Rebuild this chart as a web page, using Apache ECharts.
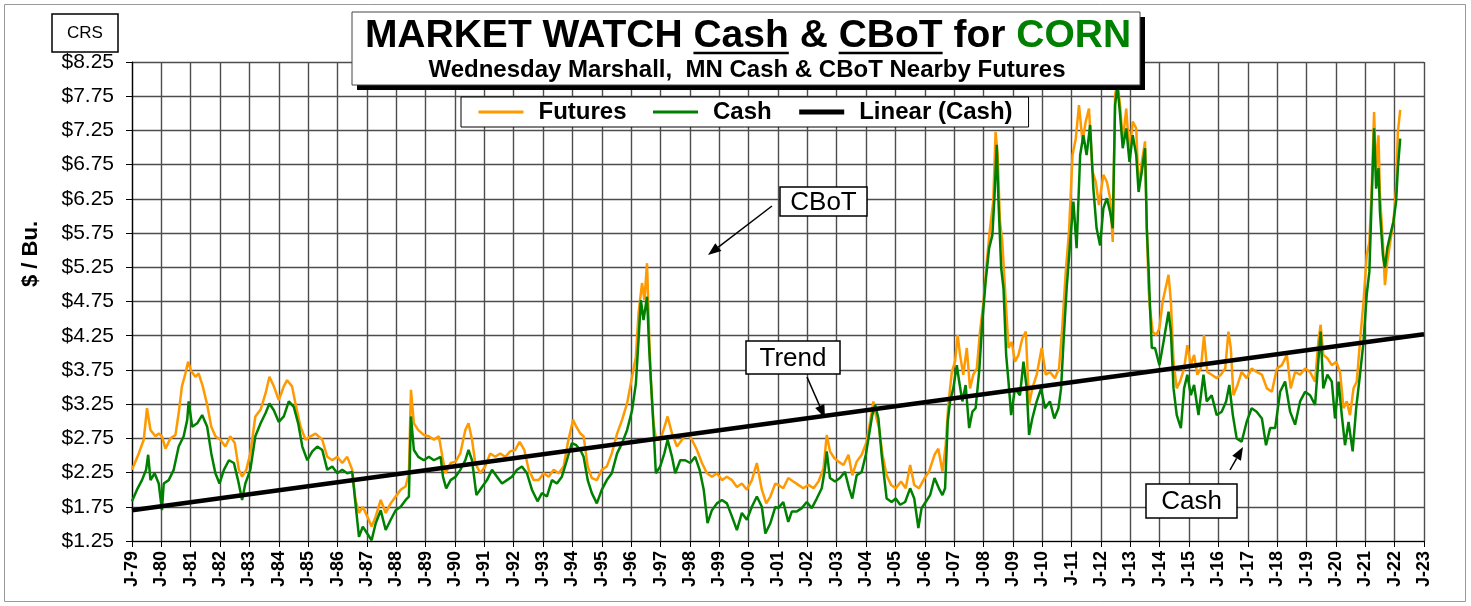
<!DOCTYPE html>
<html>
<head>
<meta charset="utf-8">
<title>Market Watch Corn</title>
<script src="https://cdn.jsdelivr.net/npm/echarts@6.0.0/dist/echarts.min.js"></script>
<style>
  html, body { margin: 0; padding: 0; background: #fff; }
  #chart { width: 1471px; height: 606px; }
</style>
</head>
<body>
<div id="chart"></div>
<script>
// weekly prices, [decimal year, $/bu]
const futures = [
  [1979.00,2.29],[1979.23,2.53],[1979.40,2.73],[1979.51,3.19],[1979.63,2.87],[1979.80,2.78],[1979.91,2.82],
  [1980.02,2.78],[1980.14,2.60],[1980.31,2.75],[1980.48,2.80],[1980.59,3.12],[1980.70,3.51],[1980.82,3.70],[1980.91,3.87],
  [1981.02,3.73],[1981.16,3.65],[1981.27,3.70],[1981.41,3.51],[1981.56,3.24],[1981.70,2.92],[1981.84,2.78],
  [1982.01,2.73],[1982.18,2.63],[1982.35,2.78],[1982.50,2.68],[1982.64,2.29],[1982.75,2.19],[1982.89,2.29],
  [1983.03,2.53],[1983.20,3.07],[1983.38,3.17],[1983.55,3.41],[1983.68,3.65],[1983.83,3.51],
  [1984.00,3.31],[1984.17,3.51],[1984.28,3.60],[1984.45,3.51],[1984.59,3.21],[1984.74,2.92],[1984.91,2.73],
  [1985.08,2.78],[1985.25,2.82],[1985.48,2.73],[1985.65,2.48],[1985.82,2.43],[1985.99,2.48],
  [1986.16,2.39],[1986.33,2.48],[1986.50,2.29],[1986.61,1.85],[1986.73,1.66],[1986.86,1.75],
  [1987.01,1.61],[1987.16,1.46],[1987.30,1.61],[1987.47,1.85],[1987.64,1.66],[1987.81,1.80],[1987.98,1.90],
  [1988.15,2.00],[1988.32,2.05],[1988.43,2.24],[1988.50,3.46],[1988.60,2.97],[1988.75,2.87],[1988.94,2.80],
  [1989.11,2.78],[1989.28,2.73],[1989.45,2.78],[1989.57,2.48],[1989.68,2.24],[1989.85,2.39],
  [1990.02,2.41],[1990.18,2.53],[1990.35,2.87],[1990.46,2.97],[1990.58,2.73],[1990.69,2.39],[1990.86,2.24],
  [1991.03,2.34],[1991.20,2.53],[1991.37,2.48],[1991.54,2.53],[1991.71,2.48],[1991.88,2.56],
  [1992.05,2.58],[1992.20,2.70],[1992.36,2.58],[1992.51,2.29],[1992.68,2.14],[1992.85,2.14],
  [1993.02,2.24],[1993.19,2.19],[1993.36,2.29],[1993.53,2.24],[1993.70,2.34],[1993.84,2.68],
  [1994.02,3.02],[1994.13,2.92],[1994.27,2.82],[1994.38,2.78],[1994.52,2.34],[1994.66,2.17],[1994.83,2.14],
  [1995.00,2.29],[1995.17,2.34],[1995.34,2.53],[1995.52,2.82],[1995.69,3.02],[1995.86,3.26],
  [1996.03,3.65],[1996.16,3.94],[1996.25,4.58],[1996.37,5.02],[1996.45,4.77],[1996.54,5.31],[1996.61,4.29],[1996.67,3.60],[1996.76,2.97],[1996.85,2.73],
  [1996.99,2.73],[1997.10,2.87],[1997.24,3.07],[1997.39,2.82],[1997.56,2.63],[1997.73,2.73],[1997.90,2.82],
  [1998.07,2.73],[1998.24,2.58],[1998.41,2.39],[1998.58,2.24],[1998.75,2.19],[1998.92,2.24],
  [1999.09,2.14],[1999.26,2.19],[1999.43,2.14],[1999.60,2.04],[1999.77,2.09],[1999.94,2.00],
  [2000.11,2.14],[2000.28,2.39],[2000.45,2.00],[2000.60,1.80],[2000.74,1.90],[2000.91,2.09],
  [2001.01,2.07],[2001.18,2.02],[2001.35,2.17],[2001.52,2.12],[2001.69,2.07],[2001.86,2.02],
  [2002.04,2.07],[2002.21,2.02],[2002.38,2.12],[2002.55,2.31],[2002.66,2.80],[2002.77,2.56],[2002.92,2.46],
  [2003.06,2.41],[2003.23,2.36],[2003.40,2.51],[2003.53,2.21],[2003.68,2.41],[2003.85,2.51],
  [2004.02,2.70],[2004.14,3.00],[2004.25,3.29],[2004.33,3.09],[2004.44,2.90],[2004.56,2.51],[2004.70,2.21],[2004.85,2.07],
  [2005.01,2.02],[2005.19,2.12],[2005.35,2.02],[2005.50,2.36],[2005.64,2.07],[2005.80,2.02],[2005.99,2.17],
  [2006.14,2.26],[2006.33,2.51],[2006.46,2.60],[2006.60,2.26],[2006.71,2.65],[2006.80,3.24],[2006.92,3.72],
  [2007.03,3.87],[2007.12,4.26],[2007.20,3.97],[2007.31,3.68],[2007.43,4.07],[2007.54,3.48],[2007.65,3.68],[2007.77,3.77],[2007.88,4.31],
  [2008.00,4.75],[2008.11,5.33],[2008.22,5.82],[2008.33,6.21],[2008.41,7.23],[2008.48,6.89],[2008.56,5.92],[2008.64,5.62],[2008.73,4.94],[2008.85,4.07],[2008.96,4.16],
  [2009.07,3.87],[2009.19,3.97],[2009.32,4.21],[2009.44,4.31],[2009.55,3.24],[2009.66,3.48],[2009.81,3.68],[2009.98,4.07],
  [2010.12,3.68],[2010.26,3.72],[2010.43,3.63],[2010.57,3.77],[2010.68,4.36],[2010.80,5.19],[2010.91,5.77],
  [2011.03,6.89],[2011.14,7.13],[2011.25,7.62],[2011.37,7.09],[2011.48,7.38],[2011.59,7.57],[2011.71,6.65],[2011.82,6.50],[2011.93,6.16],
  [2012.08,6.60],[2012.20,6.50],[2012.31,6.26],[2012.40,5.62],[2012.48,7.77],[2012.56,7.95],[2012.65,7.62],[2012.74,7.09],[2012.86,7.57],[2012.97,6.89],
  [2013.08,7.38],[2013.20,7.28],[2013.28,6.40],[2013.39,6.79],[2013.50,7.09],[2013.56,5.82],[2013.62,4.94],[2013.67,4.65],[2013.76,4.31],[2013.88,4.26],
  [2013.99,4.36],[2014.10,4.75],[2014.30,5.14],[2014.38,4.75],[2014.47,3.87],[2014.58,3.48],[2014.69,3.58],[2014.83,3.77],[2014.94,4.11],
  [2015.06,3.82],[2015.17,3.97],[2015.28,3.68],[2015.40,3.77],[2015.51,4.26],[2015.62,3.72],[2015.77,3.68],[2015.94,3.63],
  [2016.08,3.68],[2016.23,3.77],[2016.34,4.31],[2016.42,4.07],[2016.51,3.38],[2016.65,3.53],[2016.79,3.72],[2016.96,3.63],
  [2017.13,3.77],[2017.30,3.72],[2017.48,3.68],[2017.65,3.48],[2017.82,3.43],[2017.99,3.77],
  [2018.16,3.82],[2018.33,3.97],[2018.46,3.48],[2018.61,3.72],[2018.78,3.68],[2018.95,3.77],
  [2019.12,3.72],[2019.29,3.58],[2019.40,4.16],[2019.48,4.41],[2019.57,3.97],[2019.71,3.92],[2019.86,3.82],
  [2020.01,3.87],[2020.14,3.72],[2020.26,3.19],[2020.37,3.29],[2020.48,3.09],[2020.60,3.48],[2020.71,3.58],[2020.82,4.16],[2020.94,4.75],
  [2021.05,5.43],[2021.14,5.62],[2021.22,6.40],[2021.30,7.52],[2021.37,6.65],[2021.45,7.18],[2021.50,6.31],[2021.60,5.62],[2021.67,4.99],[2021.75,5.33],[2021.85,5.62],[2021.96,5.92],
  [2022.05,6.40],[2022.11,7.23],[2022.19,7.55]
];

const cash = [
  [1979.00,1.83],[1979.17,2.00],[1979.34,2.14],[1979.48,2.29],[1979.55,2.51],[1979.63,2.14],[1979.77,2.24],[1979.91,2.09],
  [1980.02,1.70],[1980.08,2.09],[1980.25,2.14],[1980.42,2.29],[1980.59,2.63],[1980.76,2.78],[1980.88,3.02],[1980.93,3.29],
  [1981.05,2.92],[1981.22,2.97],[1981.39,3.09],[1981.56,2.92],[1981.70,2.53],[1981.84,2.24],[1981.98,2.09],
  [1982.13,2.29],[1982.30,2.43],[1982.47,2.39],[1982.61,2.14],[1982.75,1.85],[1982.86,2.09],
  [1983.03,2.29],[1983.20,2.78],[1983.38,2.97],[1983.55,3.12],[1983.68,3.26],[1983.83,3.16],
  [1984.00,2.99],[1984.17,3.07],[1984.34,3.29],[1984.51,3.21],[1984.66,2.97],[1984.80,2.63],[1984.97,2.43],
  [1985.14,2.56],[1985.31,2.63],[1985.48,2.58],[1985.65,2.29],[1985.82,2.34],[1985.99,2.24],
  [1986.16,2.29],[1986.33,2.24],[1986.50,2.26],[1986.61,1.80],[1986.73,1.31],[1986.86,1.46],
  [1987.01,1.36],[1987.16,1.26],[1987.30,1.51],[1987.47,1.70],[1987.64,1.41],[1987.81,1.56],[1987.98,1.70],
  [1988.15,1.75],[1988.32,1.85],[1988.43,1.90],[1988.50,3.07],[1988.60,2.58],[1988.75,2.48],[1988.94,2.43],
  [1989.11,2.48],[1989.28,2.43],[1989.51,2.48],[1989.59,2.19],[1989.70,2.02],[1989.85,2.14],
  [1990.02,2.19],[1990.18,2.29],[1990.35,2.43],[1990.46,2.58],[1990.58,2.43],[1990.73,1.92],[1990.92,2.04],
  [1991.09,2.14],[1991.26,2.29],[1991.43,2.19],[1991.60,2.09],[1991.77,2.14],[1991.94,2.19],
  [1992.11,2.29],[1992.28,2.34],[1992.45,2.24],[1992.62,2.00],[1992.81,1.83],[1992.96,1.95],
  [1993.13,1.90],[1993.30,2.14],[1993.47,2.09],[1993.64,2.19],[1993.81,2.43],[1993.98,2.68],
  [1994.13,2.65],[1994.27,2.58],[1994.38,2.48],[1994.52,2.14],[1994.66,1.95],[1994.83,1.80],
  [1995.00,2.00],[1995.17,2.14],[1995.34,2.24],[1995.52,2.53],[1995.69,2.68],[1995.86,2.87],
  [1996.03,3.16],[1996.16,3.55],[1996.25,4.19],[1996.33,4.77],[1996.42,4.48],[1996.54,4.82],[1996.61,4.09],[1996.67,3.60],[1996.76,2.92],[1996.84,2.24],
  [1996.99,2.34],[1997.13,2.53],[1997.24,2.73],[1997.39,2.48],[1997.50,2.24],[1997.67,2.43],[1997.84,2.43],
  [1998.01,2.39],[1998.18,2.48],[1998.33,2.29],[1998.47,2.00],[1998.60,1.51],[1998.75,1.70],[1998.92,1.80],
  [1999.09,1.85],[1999.26,1.80],[1999.43,1.61],[1999.60,1.41],[1999.77,1.66],[1999.94,1.56],
  [2000.11,1.75],[2000.28,1.90],[2000.45,1.75],[2000.57,1.36],[2000.74,1.51],[2000.91,1.75],
  [2001.01,1.73],[2001.18,1.82],[2001.35,1.53],[2001.47,1.68],[2001.64,1.68],[2001.81,1.73],[2001.98,1.82],
  [2002.15,1.73],[2002.32,1.87],[2002.49,2.02],[2002.60,2.31],[2002.66,2.56],[2002.77,2.17],[2002.94,2.12],
  [2003.11,2.17],[2003.28,2.26],[2003.42,2.02],[2003.53,1.87],[2003.68,2.21],[2003.85,2.26],[2003.99,2.51],
  [2004.10,2.80],[2004.21,3.09],[2004.31,3.24],[2004.42,3.04],[2004.53,2.51],[2004.70,1.87],[2004.87,1.82],
  [2005.01,1.87],[2005.16,1.78],[2005.33,1.82],[2005.50,2.02],[2005.64,1.87],[2005.78,1.44],[2005.89,1.73],
  [2006.03,1.82],[2006.18,1.92],[2006.33,2.17],[2006.48,2.02],[2006.60,1.92],[2006.69,2.02],[2006.78,2.99],[2006.86,3.29],[2006.97,3.48],
  [2007.09,3.82],[2007.17,3.58],[2007.28,3.29],[2007.39,3.53],[2007.51,2.90],[2007.62,3.14],[2007.73,3.19],[2007.85,3.72],[2007.96,4.46],
  [2008.07,5.04],[2008.19,5.53],[2008.30,5.72],[2008.37,6.26],[2008.45,7.04],[2008.50,6.31],[2008.60,5.24],[2008.68,4.94],[2008.77,3.97],[2008.85,3.58],[2008.94,3.09],
  [2009.07,3.48],[2009.24,3.38],[2009.36,3.87],[2009.47,3.48],[2009.55,2.80],[2009.66,3.04],[2009.81,3.29],[2009.96,3.48],
  [2010.09,3.19],[2010.26,3.29],[2010.41,3.04],[2010.55,3.19],[2010.64,3.48],[2010.73,4.21],[2010.83,4.94],[2010.95,5.62],
  [2011.06,6.21],[2011.17,5.53],[2011.29,6.89],[2011.40,7.18],[2011.51,6.89],[2011.63,7.33],[2011.74,6.40],[2011.85,5.82],[2011.97,5.57],
  [2012.08,6.11],[2012.20,6.26],[2012.31,6.06],[2012.40,5.82],[2012.48,7.62],[2012.56,7.90],[2012.65,7.48],[2012.74,6.99],[2012.86,7.28],[2012.97,6.79],
  [2013.08,7.18],[2013.20,6.89],[2013.28,6.35],[2013.39,6.65],[2013.50,6.99],[2013.56,5.82],[2013.62,5.24],[2013.67,4.65],[2013.73,4.07],[2013.84,4.07],
  [2013.99,3.82],[2014.13,4.16],[2014.30,4.60],[2014.38,4.31],[2014.47,3.48],[2014.58,3.09],[2014.72,2.90],[2014.83,3.48],[2014.94,3.68],
  [2015.06,3.38],[2015.17,3.53],[2015.32,3.09],[2015.49,3.68],[2015.60,3.29],[2015.77,3.38],[2015.94,3.09],
  [2016.11,3.14],[2016.26,3.29],[2016.37,3.53],[2016.49,3.09],[2016.62,2.75],[2016.79,2.70],[2016.96,2.99],
  [2017.13,3.19],[2017.30,3.14],[2017.48,3.04],[2017.62,2.65],[2017.76,2.90],[2017.93,2.90],
  [2018.10,3.43],[2018.27,3.58],[2018.44,3.14],[2018.61,2.95],[2018.78,3.29],[2018.95,3.43],
  [2019.12,3.38],[2019.29,3.24],[2019.40,3.87],[2019.48,4.31],[2019.57,3.48],[2019.71,3.68],[2019.86,3.58],[2019.97,3.04],
  [2020.09,3.58],[2020.20,3.09],[2020.31,2.65],[2020.43,2.99],[2020.57,2.56],[2020.69,3.19],[2020.82,3.68],[2020.94,4.16],
  [2021.05,4.85],[2021.14,5.19],[2021.22,6.26],[2021.30,7.28],[2021.37,6.40],[2021.45,6.70],[2021.50,6.06],[2021.60,5.43],[2021.67,5.24],[2021.75,5.53],[2021.85,5.72],[2021.96,5.92],
  [2022.05,6.21],[2022.11,6.70],[2022.19,7.13]
];

// ends of the linear trend of cash, as drawn
const trend = [[1979, 1.70], [2023, 4.27]];

const seriesNames = ['Futures', 'Cash', 'Linear (Cash)'];
const yearRange = [1979, 2023];
const priceRange = [1.25, 8.25];

const FONT = '"Liberation Sans", Arial, Helvetica, sans-serif';
const ORANGE = '#FF9900';
const GREEN = '#008000';

const chart = echarts.init(document.getElementById('chart'), null, { renderer: 'canvas' });

// text measuring for the title underlines
const ctx = document.createElement('canvas').getContext('2d');
function textWidth(str, font) {
  ctx.font = font;
  return ctx.measureText(str).width;
}

function arrow(x1, y1, x2, y2) {
  const a = Math.atan2(y2 - y1, x2 - x1);
  const L = 13, W = 5;
  const bx = x2 - L * Math.cos(a), by = y2 - L * Math.sin(a);
  const px = -Math.sin(a) * W, py = Math.cos(a) * W;
  return [
    { type: 'line', z: 100, shape: { x1: x1, y1: y1, x2: bx, y2: by }, style: { stroke: '#000', lineWidth: 1.5 } },
    { type: 'polygon', z: 100, shape: { points: [[x2, y2], [bx + px, by + py], [bx - px, by - py]] }, style: { fill: '#000' } }
  ];
}

function labelBox(x, y, w, h, text) {
  return [
    { type: 'rect', z: 100, shape: { x: x, y: y, width: w, height: h }, style: { fill: '#fff', stroke: '#000', lineWidth: 1.5 } },
    { type: 'text', z: 101, x: x + w / 2, y: y + h / 2 + 1,
      style: { text: text, font: '26px ' + FONT, fill: '#000', align: 'center', verticalAlign: 'middle' } }
  ];
}

// title pieces
const titleFont = 'bold 39px ' + FONT;
const titleBlack = 'MARKET WATCH Cash & CBoT for ';
const titleGreen = 'CORN';
const titleW = textWidth(titleBlack + titleGreen, titleFont);
const titleX = 748 - titleW / 2;
const titleY = 36;
const cashX0 = titleX + textWidth('MARKET WATCH ', titleFont);
const cashX1 = cashX0 + textWidth('Cash', titleFont);
const cbotX0 = titleX + textWidth('MARKET WATCH Cash & ', titleFont);
const cbotX1 = cbotX0 + textWidth('CBoT', titleFont);
const ulY = 53;

const graphics = [
  { type: 'rect', z: 0, silent: true, shape: { x: 4.5, y: 4.5, width: 1461, height: 597 }, style: { fill: 'none', stroke: '#999', lineWidth: 1 } },
  // CRS tag
  { type: 'rect', z: 100, shape: { x: 52, y: 14, width: 66, height: 38 }, style: { fill: '#fff', stroke: '#000', lineWidth: 1.5 } },
  { type: 'text', z: 101, x: 85, y: 33, style: { text: 'CRS', font: '17px ' + FONT, fill: '#000', align: 'center', verticalAlign: 'middle' } },
  // y axis title
  { type: 'text', z: 101, x: 31, y: 254, rotation: Math.PI / 2,
    style: { text: '$ / Bu.', font: 'bold 22px ' + FONT, fill: '#000', align: 'center', verticalAlign: 'middle' } },
  // title box with shadow
  { type: 'rect', z: 100, shape: { x: 357, y: 17, width: 788, height: 73 }, style: { fill: '#000' } },
  { type: 'rect', z: 100, shape: { x: 352, y: 12, width: 788, height: 73 }, style: { fill: '#fff', stroke: '#444', lineWidth: 1 } },
  { type: 'text', z: 101, x: titleX, y: titleY, style: { text: titleBlack, font: titleFont, fill: '#000', align: 'left', verticalAlign: 'middle' } },
  { type: 'text', z: 101, x: titleX + textWidth(titleBlack, titleFont), y: titleY, style: { text: titleGreen, font: titleFont, fill: GREEN, align: 'left', verticalAlign: 'middle' } },
  { type: 'line', z: 101, shape: { x1: cashX0, y1: ulY, x2: cashX1, y2: ulY }, style: { stroke: '#000', lineWidth: 2.5 } },
  { type: 'line', z: 101, shape: { x1: cbotX0, y1: ulY, x2: cbotX1, y2: ulY }, style: { stroke: '#000', lineWidth: 2.5 } },
  { type: 'text', z: 101, x: 747, y: 70, style: { text: 'Wednesday Marshall,  MN Cash & CBoT Nearby Futures', font: 'bold 24px ' + FONT, fill: '#000', align: 'center', verticalAlign: 'middle' } }
]
  .concat(labelBox(780, 187, 87, 29, 'CBoT'))
  .concat(arrow(772, 206, 708, 255))
  .concat(labelBox(746, 341, 94, 33, 'Trend'))
  .concat(arrow(807, 377, 825, 418))
  .concat(labelBox(1146, 484, 91, 34, 'Cash'))
  .concat(arrow(1230, 470, 1243, 447));

const gridLine = { show: true, lineStyle: { color: '#4d4d4d', width: 1.4 } };

const option = {
  animation: false,
  backgroundColor: '#fff',
  textStyle: { fontFamily: FONT },
  grid: { left: 132, right: 47, top: 62, bottom: 65, containLabel: false },
  legend: {
    data: [
      { name: seriesNames[0], lineStyle: { width: 3 } },
      { name: seriesNames[1], lineStyle: { width: 3 } },
      { name: seriesNames[2], lineStyle: { width: 5 } }
    ],
    left: 461,
    top: 97,
    padding: [3, 16, 3, 16],
    itemGap: 25,
    itemWidth: 45,
    itemHeight: 14,
    backgroundColor: '#fff',
    borderColor: '#000',
    borderWidth: 1,
    borderRadius: 0,
    z: 50,
    itemStyle: { color: 'rgba(0,0,0,0)', borderWidth: 0 },
    textStyle: { fontFamily: FONT, fontWeight: 'bold', fontSize: 24, color: '#000', padding: [0, 0, 0, 10] }
  },
  xAxis: {
    type: 'value',
    min: yearRange[0],
    max: yearRange[1],
    interval: 1,
    axisLine: { show: true, lineStyle: { color: '#000', width: 1.2 } },
    axisTick: { show: true, length: 6, lineStyle: { color: '#000' } },
    splitLine: gridLine,
    axisLabel: {
      rotate: 90,
      margin: 10,
      color: '#000',
      fontFamily: FONT,
      fontWeight: 'bold',
      fontSize: 18,
      formatter: v => 'J-' + String(v).slice(2)
    }
  },
  yAxis: {
    type: 'value',
    min: priceRange[0],
    max: priceRange[1],
    interval: 0.5,
    axisLine: { show: true, lineStyle: { color: '#000', width: 1.2 } },
    axisTick: { show: true, length: 6, lineStyle: { color: '#000' } },
    splitLine: gridLine,
    axisLabel: {
      margin: 18,
      color: '#000',
      fontFamily: FONT,
      fontSize: 21,
      formatter: v => '$' + v.toFixed(2)
    }
  },
  series: [
    {
      name: seriesNames[0], type: 'line', data: futures, symbol: 'none', z: 3,
      lineStyle: { color: ORANGE, width: 2.5 }, itemStyle: { color: ORANGE }
    },
    {
      name: seriesNames[1], type: 'line', data: cash, symbol: 'none', z: 4,
      lineStyle: { color: GREEN, width: 2.5 }, itemStyle: { color: GREEN }
    },
    {
      name: seriesNames[2], type: 'line', data: trend, symbol: 'none', z: 5,
      lineStyle: { color: '#000', width: 4.5 }, itemStyle: { color: '#000' }
    }
  ],
  graphic: graphics
};

chart.setOption(option);
</script>
</body>
</html>
